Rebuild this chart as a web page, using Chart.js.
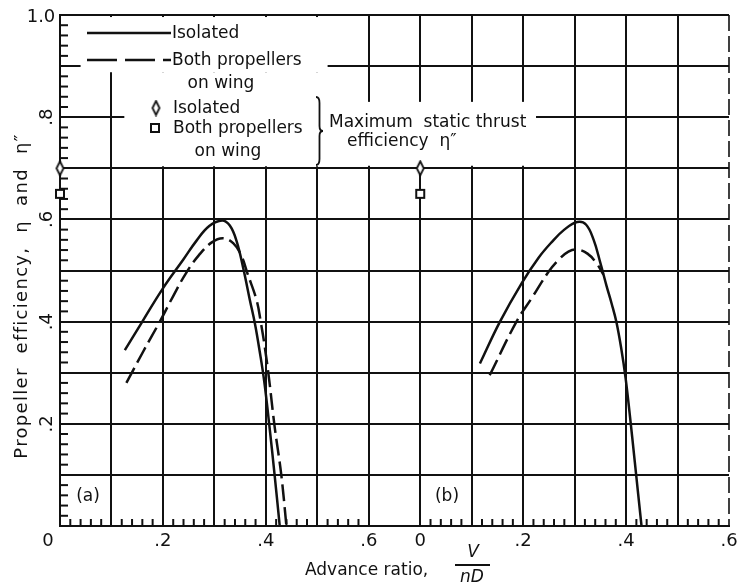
<!DOCTYPE html>
<html><head><meta charset="utf-8">
<script src="https://cdn.jsdelivr.net/npm/chart.js@4/dist/chart.umd.min.js"></script>
<style>html,body{margin:0;padding:0;background:#fff}</style>
</head><body>
<canvas id="c" width="747" height="585"></canvas>
<script>
// ---- data ----
const PANEL_B_OFFSET = 0.7;           // panel (b) sits after a 0.1 gap on the shared axis
const aIsoX  = [0.126,0.160,0.200,0.240,0.265,0.290,0.315,0.330,0.343,0.356,0.369,0.379,0.388,0.397,0.407,0.417,0.427];
const aIsoY  = [0.344,0.400,0.465,0.522,0.558,0.587,0.598,0.588,0.558,0.505,0.442,0.395,0.342,0.282,0.195,0.100,0.000];
const aWingX = [0.129,0.162,0.194,0.220,0.245,0.270,0.295,0.317,0.337,0.352,0.364,0.382,0.390,0.398,0.406,0.417,0.430,0.440];
const aWingY = [0.280,0.342,0.400,0.450,0.495,0.530,0.555,0.563,0.553,0.530,0.495,0.442,0.400,0.350,0.290,0.195,0.100,0.000];
const bIsoX  = [0.116,0.155,0.197,0.230,0.255,0.280,0.305,0.322,0.337,0.350,0.362,0.372,0.381,0.391,0.399,0.407,0.417,0.430];
const bIsoY  = [0.318,0.400,0.475,0.525,0.555,0.580,0.595,0.590,0.560,0.515,0.470,0.435,0.400,0.345,0.290,0.220,0.125,0.000];
const bWingX = [0.135,0.187,0.216,0.249,0.270,0.288,0.305,0.325,0.342,0.356];
const bWingY = [0.295,0.400,0.445,0.497,0.522,0.537,0.541,0.533,0.515,0.492];
const staticX    = [0, 0];             // panel a, panel b (J = 0)
const staticPanelOffset = [0, PANEL_B_OFFSET];
const staticIso  = [0.70, 0.70];
const staticWing = [0.65, 0.65];
const xTickValues = [0, 0.2, 0.4, 0.6];
const xTickLabels = ['0', '.2', '.4', '.6'];
const yTickValues = [0.2, 0.4, 0.6, 0.8];
const yTickLabels = ['.2', '.4', '.6', '.8'];
const yTopLabel = '1.0';

const INK = '#111';
const FONT = '"DejaVu Sans", sans-serif';

function pts(xs, ys, off) { return xs.map((x, i) => ({ x: x + off, y: ys[i] })); }

function diamondImg() {
  const c = document.createElement('canvas'); c.width = 11; c.height = 17;
  const g = c.getContext('2d');
  g.beginPath(); g.moveTo(5.5, 1.5); g.lineTo(9, 8.5); g.lineTo(5.5, 15.5); g.lineTo(2, 8.5); g.closePath();
  g.fillStyle = '#fff'; g.fill(); g.strokeStyle = INK; g.lineWidth = 1.8; g.stroke();
  return c;
}
function squareImg() {
  const c = document.createElement('canvas'); c.width = 12; c.height = 12;
  const g = c.getContext('2d');
  g.fillStyle = '#fff'; g.fillRect(2, 2, 8, 8);
  g.strokeStyle = INK; g.lineWidth = 2; g.strokeRect(2, 2, 8, 8);
  return c;
}
const DIA = diamondImg(), SQ = squareImg();

const lineBase = { borderColor: INK, borderWidth: 2.5, pointRadius: 0, fill: false, tension: 0.4 };
const datasets = [
  Object.assign({ label: 'a isolated', data: pts(aIsoX, aIsoY, 0) }, lineBase),
  Object.assign({ label: 'a wing', data: pts(aWingX, aWingY, 0), borderDash: [17, 6] }, lineBase),
  Object.assign({ label: 'b isolated', data: pts(bIsoX, bIsoY, PANEL_B_OFFSET) }, lineBase),
  Object.assign({ label: 'b wing', data: pts(bWingX, bWingY, PANEL_B_OFFSET), borderDash: [17, 6] }, lineBase),
  { label: 'static isolated', data: staticX.map((x, i) => ({ x: x + staticPanelOffset[i], y: staticIso[i] })),
    showLine: false, pointStyle: DIA, pointRadius: 6, clip: false },
  { label: 'static wing', data: staticX.map((x, i) => ({ x: x + staticPanelOffset[i], y: staticWing[i] })),
    showLine: false, pointStyle: SQ, pointRadius: 6, clip: false }
];

const decor = {
  id: 'decor',
  beforeDatasetsDraw(chart) {
    const ctx = chart.ctx, xs = chart.scales.x, ys = chart.scales.y;
    const X = v => xs.getPixelForValue(v), Y = v => ys.getPixelForValue(v);
    ctx.save();
    // white areas behind legend / note (hide grid there)
    ctx.fillStyle = '#fff';
    const masks = [[0.04, 0.52, 0.996, 0.888], [0.125, 0.52, 0.888, 0.704], [0.51, 0.925, 0.83, 0.705]];
    masks.forEach(m => ctx.fillRect(X(m[0]), Y(m[2]), X(m[1]) - X(m[0]), Y(m[3]) - Y(m[2])));
    // right edge of panel b: broken line
    ctx.strokeStyle = INK; ctx.lineWidth = 1.6; ctx.setLineDash([16, 5]);
    ctx.beginPath(); ctx.moveTo(X(1.3), Y(1.0)); ctx.lineTo(X(1.3), Y(0)); ctx.stroke();
    ctx.setLineDash([]);
    // minor ticks (0.02) on left axis
    ctx.lineWidth = 2;
    for (let k = 1; k < 50; k++) {
      if (k % 5 === 0) continue;
      const y = Y(k * 0.02);
      ctx.beginPath(); ctx.moveTo(X(0), y); ctx.lineTo(X(0) + 8, y); ctx.stroke();
    }
    // minor ticks on the bottom of both panels
    [0, PANEL_B_OFFSET].forEach(off => {
      for (let k = 1; k < 30; k++) {
        if (k % 5 === 0) continue;
        const x = X(off + k * 0.02);
        ctx.beginPath(); ctx.moveTo(x, Y(0)); ctx.lineTo(x, Y(0) - 7); ctx.stroke();
      }
    });
    ctx.restore();
  },
  afterDraw(chart) {
    const ctx = chart.ctx, xs = chart.scales.x, ys = chart.scales.y;
    const X = v => xs.getPixelForValue(v), Y = v => ys.getPixelForValue(v);
    ctx.save();
    ctx.fillStyle = INK; ctx.strokeStyle = INK;
    // tick labels
    ctx.font = '18px ' + FONT; ctx.textAlign = 'center'; ctx.textBaseline = 'middle';
    [0, PANEL_B_OFFSET].forEach((off, p) => {
      xTickValues.forEach((v, i) => {
        let x = X(off + v);
        if (p === 0 && i === 0) x -= 12;
        ctx.fillText(xTickLabels[i], x, 541);
      });
    });
    yTickValues.forEach((v, i) => {
      ctx.save(); ctx.translate(47, Y(v)); ctx.rotate(-Math.PI / 2);
      ctx.fillText(yTickLabels[i], 0, 0); ctx.restore();
    });
    ctx.fillText(yTopLabel, 41, 17);
    // axis titles
    ctx.font = '18px ' + FONT;
    ctx.save(); ctx.translate(22, 296); ctx.rotate(-Math.PI / 2);
    try { ctx.letterSpacing = '1.3px'; } catch (e) {}
    ctx.fillText('Propeller  efficiency,  \u03b7  and  \u03b7\u2033', 0, 0);
    try { ctx.letterSpacing = '0px'; } catch (e) {}
    ctx.restore();
    ctx.font = '17px ' + FONT;
    ctx.textAlign = 'left';
    ctx.fillText('Advance ratio,', 305, 571);
    ctx.font = 'italic 17px ' + FONT; ctx.textAlign = 'center';
    ctx.fillText('V', 473, 553);
    ctx.fillText('nD', 472, 578);
    ctx.lineWidth = 1.8; ctx.beginPath(); ctx.moveTo(455, 565); ctx.lineTo(490, 565); ctx.stroke();
    // panel labels
    ctx.font = '17px ' + FONT;
    ctx.fillText('(a)', 88, 497);
    ctx.fillText('(b)', 447, 497);
    // legend
    ctx.lineWidth = 2.5;
    ctx.beginPath(); ctx.moveTo(87, 33); ctx.lineTo(171, 33); ctx.stroke();
    ctx.setLineDash([30, 8]);
    ctx.beginPath(); ctx.moveTo(87, 60); ctx.lineTo(171, 60); ctx.stroke();
    ctx.setLineDash([]);
    ctx.textAlign = 'left';
    ctx.fillText('Isolated', 172, 34);
    ctx.fillText('Both propellers', 172, 61);
    ctx.textAlign = 'center';
    ctx.fillText('on wing', 221, 84);
    ctx.drawImage(DIA, 156 - 5.5, 108 - 8.5);
    ctx.drawImage(SQ, 155 - 6, 128 - 6);
    ctx.textAlign = 'left';
    ctx.fillText('Isolated', 173, 109);
    ctx.fillText('Both propellers', 173, 129);
    ctx.textAlign = 'center';
    ctx.fillText('on wing', 228, 152);
    // brace
    const bx = 316, top = 97, bot = 165, mid = 131, w = 7;
    ctx.lineWidth = 1.8;
    ctx.beginPath();
    ctx.moveTo(bx, top);
    ctx.quadraticCurveTo(bx + w / 2, top, bx + w / 2, top + 6);
    ctx.lineTo(bx + w / 2, mid - 5);
    ctx.quadraticCurveTo(bx + w / 2, mid, bx + w, mid);
    ctx.quadraticCurveTo(bx + w / 2, mid, bx + w / 2, mid + 5);
    ctx.lineTo(bx + w / 2, bot - 6);
    ctx.quadraticCurveTo(bx + w / 2, bot, bx, bot);
    ctx.stroke();
    ctx.textAlign = 'left';
    ctx.fillText('Maximum  static thrust', 329, 123);
    ctx.fillText('efficiency  \u03b7\u2033', 347, 142);
    ctx.restore();
  }
};

new Chart(document.getElementById('c'), {
  type: 'line',
  data: { datasets },
  options: {
    responsive: false, animation: false, devicePixelRatio: 1,
    layout: { padding: { left: 0, right: 18, top: 15, bottom: 0 } },
    plugins: { legend: { display: false }, tooltip: { enabled: false } },
    scales: {
      x: {
        type: 'linear', min: 0, max: 1.3,
        ticks: { stepSize: 0.1, display: false },
        grid: { color: c => (Math.abs(c.tick.value - 1.3) < 1e-6 ? 'rgba(0,0,0,0)' : INK), lineWidth: 2, drawTicks: false },
        border: { color: INK, width: 2 },
        afterFit: s => { s.height = 59; }
      },
      y: {
        min: 0, max: 1.0,
        ticks: { stepSize: 0.1, display: false },
        grid: { color: INK, lineWidth: 2, drawTicks: false },
        border: { color: INK, width: 2 },
        afterFit: s => { s.width = 60; }
      }
    }
  },
  plugins: [decor]
});
</script>
</body></html>
